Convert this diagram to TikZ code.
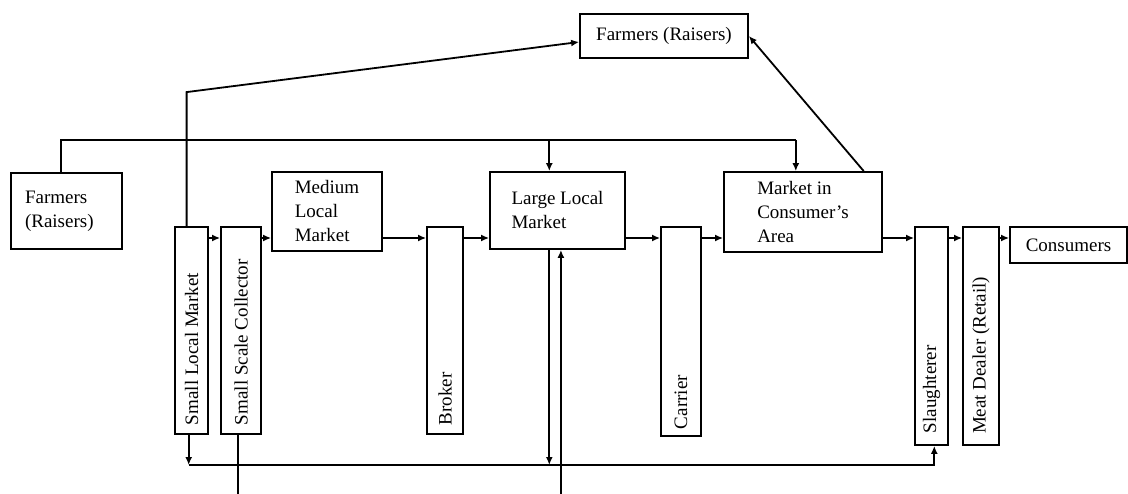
\documentclass[tikz,border=0pt]{standalone}
\usepackage{fontspec}
\setmainfont{Liberation Serif}
\usepackage{graphicx}
\usepackage{tikz}
\usetikzlibrary{arrows.meta,calc}
\newcommand{\vtext}[2]{\rotatebox{90}{\makebox[#1pt][l]{#2}}}

\begin{document}
\begin{tikzpicture}[
  x=1pt, y=-1pt,
  font=\fontsize{19}{24}\selectfont,
  line width=1.8pt,
  hbox/.style={draw, align=left, inner sep=0pt},
  vbox/.style={draw, inner sep=0pt, minimum height=207},
  flow/.style={-{Latex[length=8pt,width=7pt]}}
]
\useasboundingbox (0,0) rectangle (1128,494);

% ---- helper rows ----------------------------------------------------------
\coordinate (bus)  at (0,140);
\coordinate (row)  at (0,238);
\coordinate (low)  at (0,465);
\coordinate (edge) at (0,494);

% ---- nodes ----------------------------------------------------------------
\node[hbox, minimum width=168, minimum height=44] (farmTop) at (664,36) {Farmers (Raisers)};
\node[hbox, minimum width=111, minimum height=76, text width=83, inner xsep=14pt]
  (farmLeft) at (66.5,211) {Farmers\\(Raisers)};
\node[vbox, minimum width=33] (smallMkt)  at (191.5,330.5) {\vtext{189}{Small Local Market}};
\node[vbox, minimum width=40] (collector) at (241,330.5)   {\vtext{189}{Small Scale Collector}};
\node[hbox, minimum width=110, minimum height=79] (medium) at (327,211.5) {Medium\\Local\\Market};
\node[vbox, minimum width=36] (broker)    at (445,330.5)   {\vtext{189}{Broker}};
\node[hbox, minimum width=135, minimum height=77] (large) at (557.5,210.5) {Large Local\\Market};
\node[vbox, minimum width=40, minimum height=209] (carrier) at (681,331.5) {\vtext{195}{Carrier}};
\node[hbox, minimum width=158, minimum height=80] (mktCons) at (803,212) {Market in\\Consumer's\\Area};
\node[vbox, minimum width=33, minimum height=218] (slaughter) at (931.5,336) {\vtext{194}{Slaughterer}};
\node[vbox, minimum width=36, minimum height=218] (meat) at (981,336) {\vtext{196}{Meat Dealer (Retail)}};
\node[hbox, minimum width=117, minimum height=36] (consumers) at (1068.5,245) {Consumers};

% ---- main chain -----------------------------------------------------------
\foreach \a/\b in {smallMkt/collector, collector/medium, medium/broker, broker/large,
                   large/carrier, carrier/mktCons, mktCons/slaughter, slaughter/meat,
                   meat/consumers}
  \draw[flow] (\a.east |- row) -- (\b.west |- row);

% ---- top links ------------------------------------------------------------
\coordinate (fromFarm) at ($(farmLeft.north west)!0.45!(farmLeft.north east)$);
\coordinate (toLarge)  at ($(large.north west)!0.44!(large.north east)$);
\coordinate (toMkt)    at ($(mktCons.north west)!0.455!(mktCons.north east)$);
\draw (fromFarm) |- (toMkt |- bus);
\draw[flow] (toMkt |- bus) -- (toMkt);
\draw[flow] (toLarge |- bus) -- (toLarge);

\coordinate (smTop) at ($(smallMkt.north west)!0.36!(smallMkt.north east)$);
\draw[flow] (smTop) -- ++(0,-134) -- ($(farmTop.west)+(0,6)$);
\draw[flow] ($(mktCons.north west)!0.88!(mktCons.north east)$) -- (farmTop.east);

% ---- bottom links ---------------------------------------------------------
\coordinate (smBot)  at ($(smallMkt.south west)!0.42!(smallMkt.south east)$);
\coordinate (colBot) at ($(collector.south west)!0.42!(collector.south east)$);
\coordinate (lgDown) at ($(large.south west)!0.44!(large.south east)$);
\coordinate (lgUp)   at ($(large.south west)!0.525!(large.south east)$);
\coordinate (slBot)  at ($(slaughter.south west)!0.58!(slaughter.south east)$);
\draw[flow] (smBot) -- (smBot |- low);
\draw[flow] (smBot |- low) -| (slBot);
\draw[flow] (lgDown) -- (lgDown |- low);
\draw[flow] (lgUp |- edge) -- (lgUp);
\draw (colBot) -- (colBot |- edge);

\end{tikzpicture}
\end{document}
